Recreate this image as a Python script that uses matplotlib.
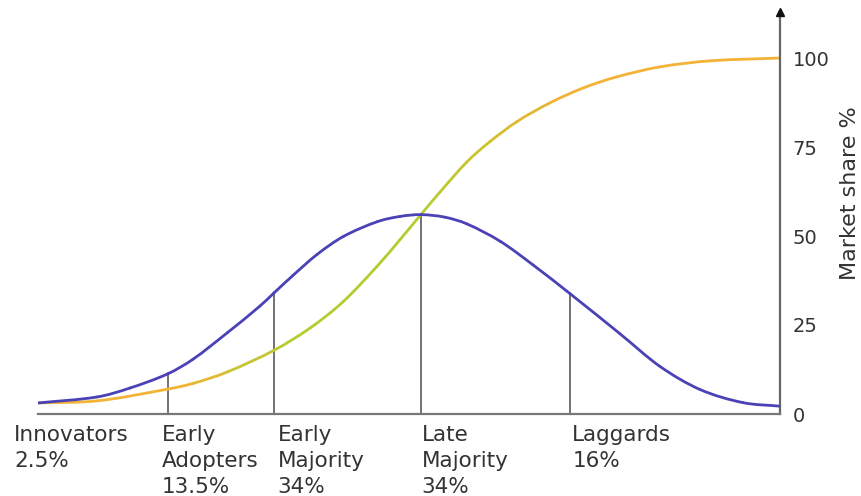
import matplotlib
matplotlib.use("Agg")
import matplotlib.pyplot as plt
import numpy as np
from matplotlib.path import Path
from matplotlib.patches import PathPatch

plt.rcParams['font.family'] = ['DejaVu Sans']

# ---- data (x in 0..100 time units) ----
bell_x = [0, 8.0, 12.4, 17.5, 20.9, 25.5, 29.9, 31.8, 34.4, 37.6, 41.1, 45.7,
          48.8, 51.6, 54.8, 57.8, 62.3, 66.7, 71.7, 78.4, 83.8, 89.2, 95.0, 100]
bell_y = [3.1, 4.8, 7.3, 11.3, 15.4, 22.8, 30.3, 34.0, 39.0, 44.8, 49.8, 54.0,
          55.5, 56.0, 55.3, 53.4, 48.5, 41.9, 33.8, 22.6, 13.4, 6.9, 3.2, 2.2]

s_x = [0, 8.0, 17.5, 20.9, 25.5, 31.9, 36.7, 41.1, 45.7, 48.8, 51.6, 54.2,
       57.8, 60.9, 64.6, 69.0, 73.5, 78.0, 83.8, 90.6, 100]
s_y = [3.1, 3.7, 7.0, 8.6, 11.8, 18.0, 24.2, 31.5, 41.5, 49.0, 56.0, 62.4,
       70.8, 76.5, 82.2, 87.4, 91.6, 94.7, 97.5, 99.2, 100]

segments = ["Innovators\n2.5%", "Early\nAdopters\n13.5%", "Early\nMajority\n34%",
            "Late\nMajority\n34%", "Laggards\n16%"]
boundary_idx = [3, 7, 13, 18]          # indices into bell_x where segments meet
y_ticks = [0, 25, 50, 75, 100]
y_label = "Market share %"


def bezier_pieces(xs, ys):
    """Cubic Hermite pieces (as Bezier control points) through the read points."""
    x = np.asarray(xs, float)
    y = np.asarray(ys, float)
    n = len(x)
    m = np.zeros(n)
    for i in range(n):
        if i == 0:
            m[i] = (y[1] - y[0]) / (x[1] - x[0])
        elif i == n - 1:
            m[i] = (y[-1] - y[-2]) / (x[-1] - x[-2])
        else:
            m[i] = (y[i + 1] - y[i - 1]) / (x[i + 1] - x[i - 1])
    pieces = []
    for i in range(n - 1):
        h = x[i + 1] - x[i]
        pieces.append([(x[i], y[i]),
                       (x[i] + h / 3, y[i] + m[i] * h / 3),
                       (x[i + 1] - h / 3, y[i + 1] - m[i + 1] * h / 3),
                       (x[i + 1], y[i + 1])])
    return pieces


def piece_path(p):
    return Path(p, [Path.MOVETO, Path.CURVE4, Path.CURVE4, Path.CURVE4])


# ---- figure ----
fig = plt.figure(figsize=(8.62, 4.96), dpi=100)
ax = fig.add_axes([38/862, 82/496, 742/862, 402/496])
ax.set_xlim(0, 100)
ax.set_ylim(0, 100 * 402 / 356)

# S-curve: orange at the ends, yellow-green in the middle
orange = np.array([0.95, 0.70, 0.21])
green = np.array([0.71, 0.80, 0.19])
for p in bezier_pieces(s_x, s_y):
    xm = (p[0][0] + p[3][0]) / 2
    if xm < 32:
        a = np.clip((xm - 20) / 12, 0, 1)
    elif xm > 52:
        a = np.clip((72 - xm) / 20, 0, 1)
    else:
        a = 1.0
    col = tuple(orange * (1 - a) + green * a)
    ax.add_patch(PathPatch(piece_path(p), facecolor='none', edgecolor=col, lw=2.0,
                           capstyle='round', zorder=2))

# bell curve
for p in bezier_pieces(bell_x, bell_y):
    ax.add_patch(PathPatch(piece_path(p), facecolor='none', edgecolor='#4A42B6', lw=2.0,
                           capstyle='round', zorder=3))

# segment boundary lines
for i in boundary_idx:
    ax.plot([bell_x[i], bell_x[i]], [0, bell_y[i]], color='#5a5a5a', lw=1.2, zorder=1)

# spines
for s in ['top', 'left']:
    ax.spines[s].set_visible(False)
ax.spines['bottom'].set_color('#777777')
ax.spines['bottom'].set_linewidth(1.6)
ax.spines['right'].set_color('#666666')
ax.spines['right'].set_linewidth(1.6)
ax.plot([1], [1], marker='^', color='#111111', markersize=6, transform=ax.transAxes,
        clip_on=False, zorder=5)

ax.set_xticks([])
ax.yaxis.tick_right()
ax.set_yticks(y_ticks)
ax.set_yticklabels([str(t) for t in y_ticks])
ax.tick_params(axis='y', length=0, pad=9, labelsize=14, labelcolor='#333333')

# segment labels below the axis
label_x = [-3.2, 16.7, 32.3, 51.7, 72.0]
trans = matplotlib.transforms.blended_transform_factory(ax.transData, fig.transFigure)
for lx, txt in zip(label_x, segments):
    ax.text(lx, 1 - 425/496, txt, ha='left', va='top', fontsize=15.5,
            color='#333333', linespacing=1.36, clip_on=False, transform=trans)

fig.text(850/862, 1 - 193/496, y_label, rotation=90, ha='center', va='center',
         fontsize=16, color='#333333')

fig.savefig('out.png', dpi=100, facecolor='white')
